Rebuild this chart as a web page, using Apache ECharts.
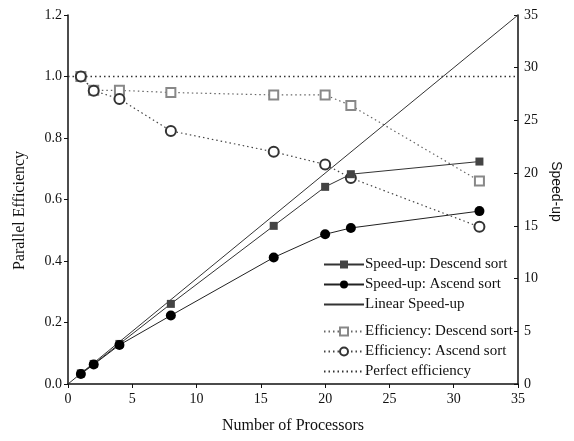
<!DOCTYPE html>
<html>
<head>
<meta charset="utf-8">
<script src="https://cdn.jsdelivr.net/npm/echarts@6/dist/echarts.min.js"></script>
<style>
  html, body { margin: 0; padding: 0; background: #fff; }
  #chart { width: 574px; height: 441px; }
</style>
</head>
<body>
<div id="chart"></div>
<script>
// processors used in the runs
var procs = [1, 2, 4, 8, 16, 20, 22, 32];
// speed-up values (right axis)
var speedDesc = [1.0, 1.9, 3.8, 7.6, 15.0, 18.7, 19.9, 21.1];
var speedAsc = [0.95, 1.85, 3.7, 6.5, 12.0, 14.2, 14.8, 16.4];
var linearX = [0, 35];
var linearY = [0, 35];
// parallel efficiency values (left axis)
var effDesc = [1.0, 0.955, 0.955, 0.948, 0.94, 0.94, 0.906, 0.66];
var effAsc = [1.0, 0.954, 0.927, 0.823, 0.755, 0.714, 0.67, 0.511];
var perfectX = [0, 35];
var perfectY = [1.0, 1.0];

function pairs(xs, ys) {
    return xs.map(function(x, i) { return [x, ys[i]]; });
}

var font = 'Liberation Serif';
var ink = '#111';
var legendText = { fontFamily: font, fontSize: 15, color: ink, padding: [0, 0, 0, -4] };

var chart = echarts.init(document.getElementById('chart'));
chart.setOption({
    animation: false,
    backgroundColor: '#fff',
    textStyle: { fontFamily: font, color: ink },
    grid: { left: 68, right: 56, top: 15, bottom: 57 },
    legend: [{
        orient: 'vertical',
        left: 318, top: 252,
        itemWidth: 40, itemHeight: 10, itemGap: 5,
        textStyle: legendText,
        data: ['Speed-up: Descend sort', 'Speed-up: Ascend sort', 'Linear Speed-up']
    }, {
        orient: 'vertical',
        left: 318, top: 319,
        itemWidth: 40, itemHeight: 10, itemGap: 5,
        textStyle: legendText,
        data: ['Efficiency: Descend sort', 'Efficiency: Ascend sort', 'Perfect efficiency']
    }],
    xAxis: {
        type: 'value', min: 0, max: 35, interval: 5,
        name: 'Number of Processors', nameLocation: 'middle', nameGap: 34,
        nameTextStyle: { fontFamily: font, fontSize: 16, color: ink },
        axisLine: { lineStyle: { color: ink, width: 1.5 } },
        axisTick: { length: 4, lineStyle: { color: ink } },
        axisLabel: { fontFamily: font, fontSize: 14, color: ink, margin: 8 },
        splitLine: { show: false }
    },
    yAxis: [{
        type: 'value', min: 0, max: 1.2, interval: 0.2,
        name: 'Parallel Efficiency', nameLocation: 'middle', nameGap: 40,
        nameTextStyle: { fontFamily: font, fontSize: 16, color: ink, padding: [0, 22, 0, 0] },
        axisLine: { show: true, lineStyle: { color: ink, width: 1.5 } },
        axisTick: { show: true, length: 4, lineStyle: { color: ink } },
        axisLabel: { fontFamily: font, fontSize: 14, color: ink, margin: 6,
            formatter: function(v) { return v.toFixed(1); } },
        splitLine: { show: false }
    }, {
        type: 'value', min: 0, max: 35, interval: 5, position: 'right',
        name: 'Speed-up', nameLocation: 'middle', nameGap: 26, nameRotate: -90,
        nameTextStyle: { fontFamily: 'Liberation Sans', fontSize: 14, color: ink, padding: [0, 16, 0, 0] },
        axisLine: { show: true, lineStyle: { color: ink, width: 1.5 } },
        axisTick: { show: true, inside: true, length: 4, lineStyle: { color: ink } },
        axisLabel: { fontFamily: font, fontSize: 14, color: ink, margin: 6 },
        splitLine: { show: false }
    }],
    series: [{
        name: 'Perfect efficiency', type: 'line', yAxisIndex: 0,
        data: pairs(perfectX, perfectY), symbol: 'none',
        lineStyle: { color: '#333', width: 1.5, type: [1.5, 3] },
        itemStyle: { color: '#333', opacity: 0 }
    }, {
        name: 'Linear Speed-up', type: 'line', yAxisIndex: 1,
        data: pairs(linearX, linearY), symbol: 'none',
        lineStyle: { color: '#333', width: 1 },
        itemStyle: { color: '#333', opacity: 0 }
    }, {
        name: 'Efficiency: Descend sort', type: 'line', yAxisIndex: 0,
        data: pairs(procs, effDesc), symbol: 'emptyRect', symbolSize: 9,
        lineStyle: { color: '#666', width: 1.2, type: [1.5, 3] },
        itemStyle: { color: '#888', borderWidth: 1 }
    }, {
        name: 'Efficiency: Ascend sort', type: 'line', yAxisIndex: 0,
        data: pairs(procs, effAsc), symbol: 'emptyCircle', symbolSize: 10,
        lineStyle: { color: '#444', width: 1.2, type: [1.5, 3] },
        itemStyle: { color: '#333', borderWidth: 1 }
    }, {
        name: 'Speed-up: Descend sort', type: 'line', yAxisIndex: 1,
        data: pairs(procs, speedDesc), symbol: 'rect', symbolSize: 8,
        lineStyle: { color: '#333', width: 1 },
        itemStyle: { color: '#444' }
    }, {
        name: 'Speed-up: Ascend sort', type: 'line', yAxisIndex: 1,
        data: pairs(procs, speedAsc), symbol: 'circle', symbolSize: 10,
        lineStyle: { color: '#222', width: 1 },
        itemStyle: { color: '#000' }
    }]
});
</script>
</body>
</html>
